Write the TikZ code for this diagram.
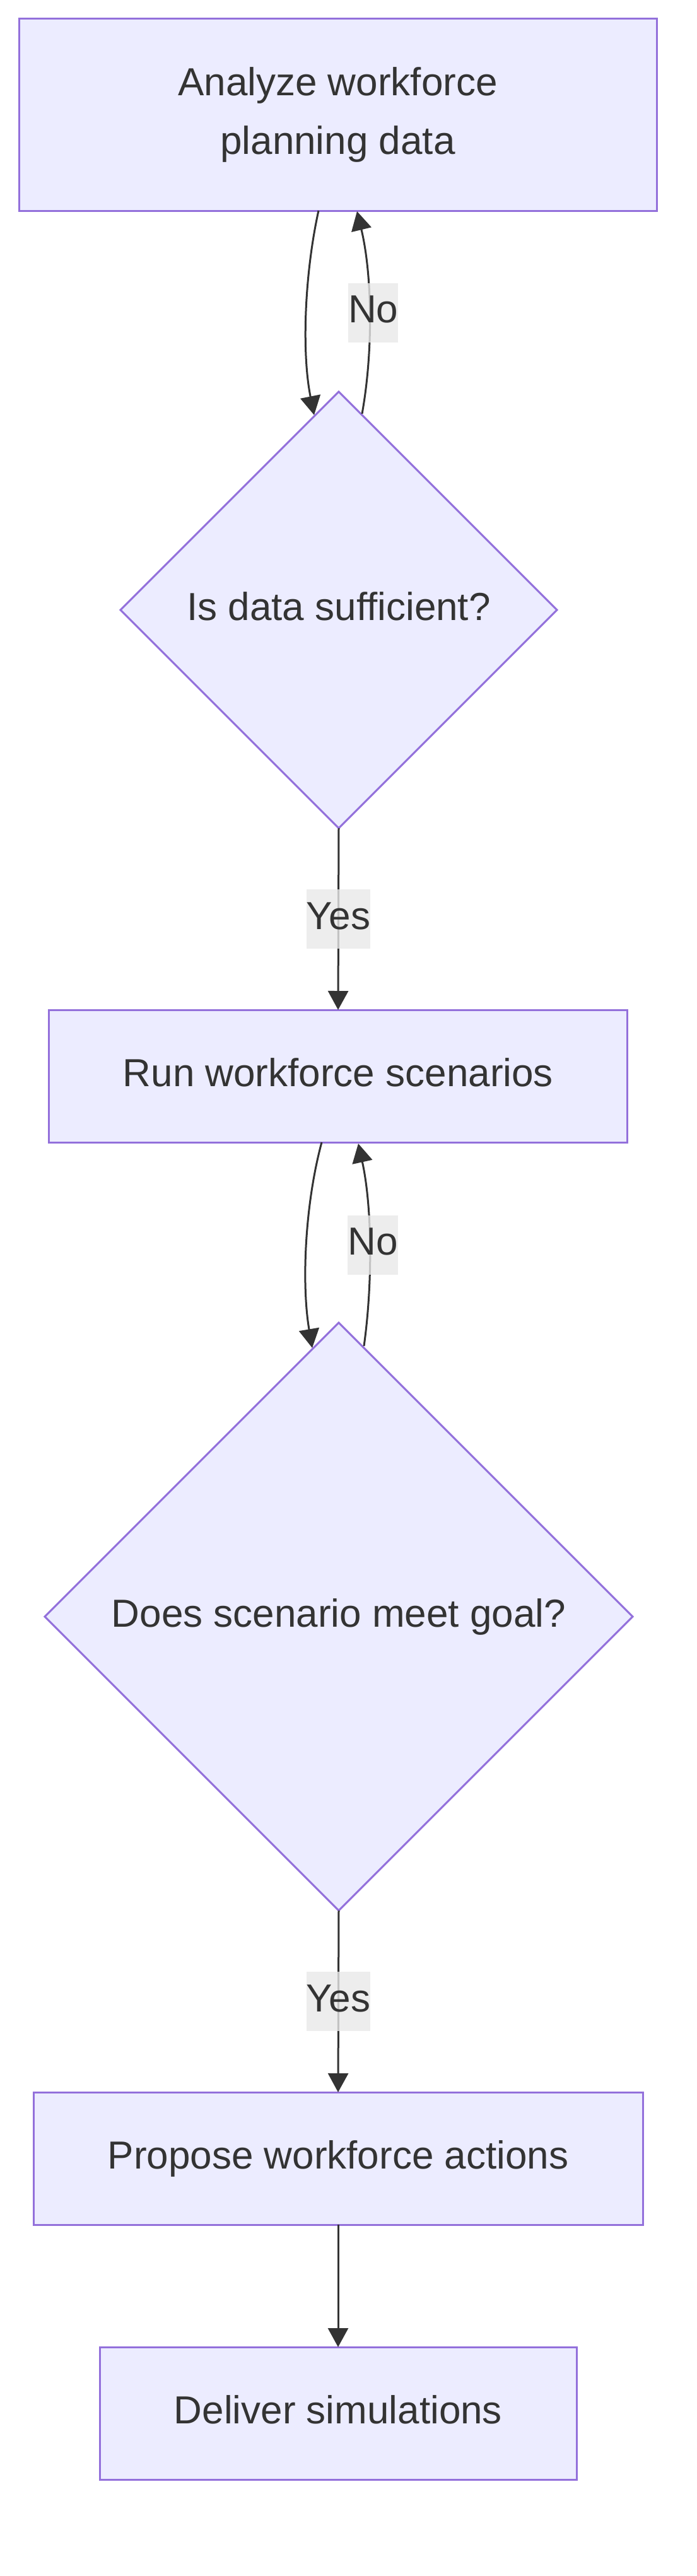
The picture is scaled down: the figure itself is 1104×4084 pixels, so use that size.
\documentclass[tikz,border=0pt]{standalone}
\usepackage{fontspec}
\setmainfont{Liberation Sans}
\usetikzlibrary{shapes.geometric,arrows.meta}
\definecolor{nodefill}{HTML}{ECECFF}
\definecolor{nodeline}{HTML}{9370DB}
\definecolor{ink}{HTML}{333333}
\definecolor{lblfill}{HTML}{E8E8E8}
\begin{document}
\begin{tikzpicture}[x=1pt,y=-1pt,
  every node/.style={font=\fontsize{62pt}{93pt}\selectfont, text=ink, outer sep=0pt},
  proc/.style={draw=nodeline, fill=nodefill, line width=3pt, rectangle, inner sep=0pt},
  onel/.style={text height=45pt, text depth=13pt},
  decision/.style={draw=nodeline, fill=nodefill, line width=3pt, diamond, aspect=1, inner sep=0pt, text height=45pt, text depth=13pt},
  edge/.style={draw=ink, line width=3pt, -{Triangle[length=30pt,width=32pt]}},
  lbl/.style={fill=lblfill, fill opacity=0.8, text opacity=1, inner sep=0pt, text height=63pt, text depth=31pt}
]
\useasboundingbox (0,0) rectangle (1104,4084);

% nodes
\node[proc, minimum width=1011pt, minimum height=304pt, align=center] (b1) at (535.5,182) {Analyze workforce\\planning data};
\node[decision, minimum width=692pt, minimum height=692pt] (d1) at (537,967) {Is data sufficient?};
\node[proc, onel, minimum width=917pt, minimum height=210pt] (b2) at (536,1706) {Run workforce scenarios};
\node[decision, minimum width=932pt, minimum height=932pt] (d2) at (537,2563) {Does scenario meet goal?};
\node[proc, onel, minimum width=966pt, minimum height=210pt] (b3) at (536,3422) {Propose workforce actions};
\node[proc, onel, minimum width=756pt, minimum height=210pt] (b4) at (536,3826) {Deliver simulations};

% loop 1
\draw[edge] ([xshift=-30.5pt]b1.south) .. controls +(-22,100) and +(-20,-100) .. ([shift={(-39,37)}]d1.north);
\draw[edge] ([shift={(37,35)}]d1.north) .. controls +(18,-100) and +(24,100) .. node[lbl, pos=0.5, xshift=6pt] (no1) {No} ([shift={(30.5,1)}]b1.south);

% yes 1
\draw[edge] (d1.south) -- node[lbl, pos=0.5] (yes1) {Yes} (b2.north);

% loop 2
\draw[edge] ([xshift=-26pt]b2.south) .. controls +(-27,100) and +(-17,-100) .. ([shift={(-42,40)}]d2.north);
\draw[edge] ([shift={(40,37)}]d2.north) .. controls +(14,-100) and +(22,100) .. node[lbl, pos=0.5, xshift=5pt] (no2) {No} ([shift={(32,2)}]b2.south);

% yes 2
\draw[edge] (d2.south) -- node[lbl, pos=0.5] (yes2) {Yes} (b3.north);

% final
\draw[edge] (b3.south) -- (b4.north);
\end{tikzpicture}
\end{document}
